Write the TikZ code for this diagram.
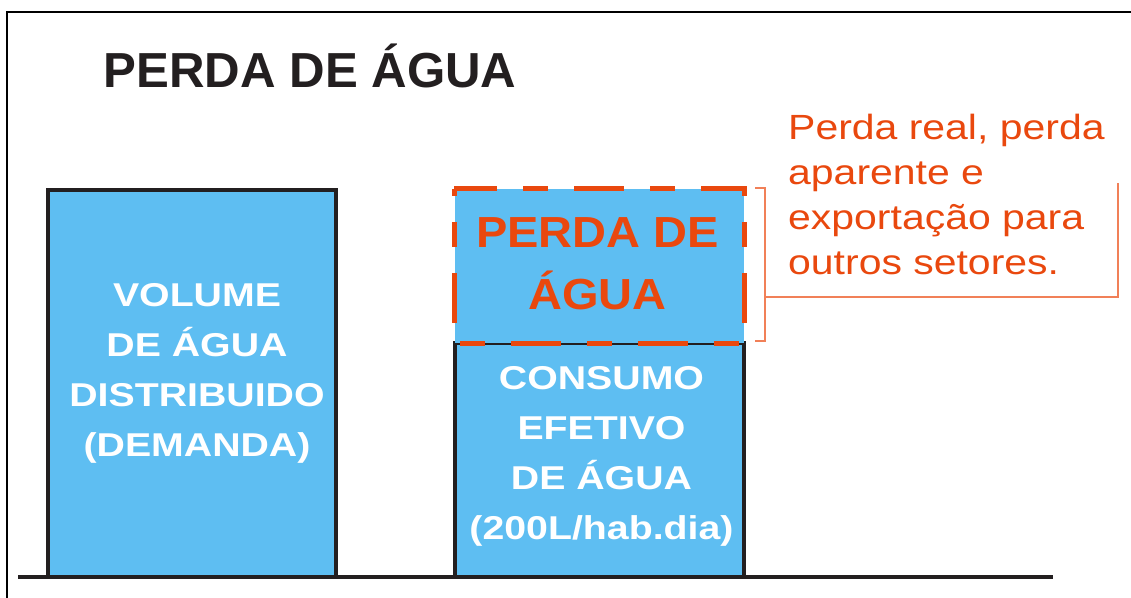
\documentclass[tikz,border=0pt]{standalone}
\usepackage{fontspec}
\setmainfont{Liberation Sans}
\newfontfamily\tankfont[FakeStretch=1.19]{Liberation Sans}
\newfontfamily\lossfont[FakeStretch=1.08]{Liberation Sans}
\newfontfamily\notefont[FakeStretch=1.17]{Liberation Sans}
\usetikzlibrary{shapes,arrows,positioning}

\definecolor{waterblue}{RGB}{94,190,242}
\definecolor{lossred}{RGB}{233,72,14}
\definecolor{bracketred}{RGB}{241,128,88}
\definecolor{edgegray}{RGB}{35,31,32}

\tikzset{
  tank/.style={rectangle, draw=edgegray, line width=4pt, fill=waterblue, inner sep=0pt},
  tanktext/.style={text=white, align=center, inner sep=0pt, anchor=north,
    font=\tankfont\bfseries\fontsize{33}{50}\selectfont},
  lossdash/.style={draw=lossred, line width=5pt,
    dash pattern=on 50pt off 26pt on 25pt off 26pt, dash phase=43pt},
  losstext/.style={text=lossred, align=center, inner sep=0pt, anchor=north,
    font=\lossfont\bfseries\fontsize{43.5}{62}\selectfont},
  note/.style={text=lossred, align=left, inner sep=0pt, anchor=north west,
    font=\notefont\fontsize{35}{45}\selectfont},
  bracket/.style={draw=bracketred, line width=1.5pt}
}

\begin{document}
\begin{tikzpicture}[x=1pt,y=-1pt]
\useasboundingbox (0,0) rectangle (1131,597);

% Frame and ground
\draw[line width=2pt] (7,620) -- (7,12) -- (1150,12);
\draw[draw=edgegray, line width=4pt] (18,577) -- (1053,577);

% Title
\node[anchor=base west, inner sep=0pt, text=edgegray,
  font=\bfseries\fontsize{49.2}{59}\selectfont] (title) at (103.5,87.5) {PERDA DE ÁGUA};

% Distributed volume
\node[tank, minimum width=288, minimum height=387] (dist) at (191.5,383.5) {};
\node[tanktext] (distlabel) at (197,283) {VOLUME\\DE ÁGUA\\DISTRIBUIDO\\(DEMANDA)};

% Effective consumption
\node[tank, minimum width=289.5, minimum height=234] (use) at (599.25,460) {};
\node[tanktext] (uselabel) at (601.5,366) {CONSUMO\\EFETIVO\\DE ÁGUA\\(200L/hab.dia)};

% Water loss
\node[rectangle, fill=waterblue, inner sep=0pt, minimum width=289.5, minimum height=154] (loss) at (599.25,266) {};
\draw[lossdash] (loss.north west) -- (loss.south west) -- (loss.south east) -- (loss.north east) -- cycle;
\node[losstext] (losslabel) at (597.5,217) {PERDA DE\\ÁGUA};

% Note with bracket
\node[note] (note) at (788,114) {Perda real, perda\\aparente e\\exportação para\\outros setores.};
\draw[bracket] ([xshift=11pt,yshift=1pt]loss.north east) -- ++(10,0) coordinate (brtop)
  -- ([xshift=21pt,yshift=2pt]loss.south east) coordinate (brbot) -- ++(-10,0);
\coordinate (brmid) at (765,297);
\coordinate (notecorner) at (1118,183);
\draw[bracket] (brmid) -| (notecorner);
\end{tikzpicture}
\end{document}
